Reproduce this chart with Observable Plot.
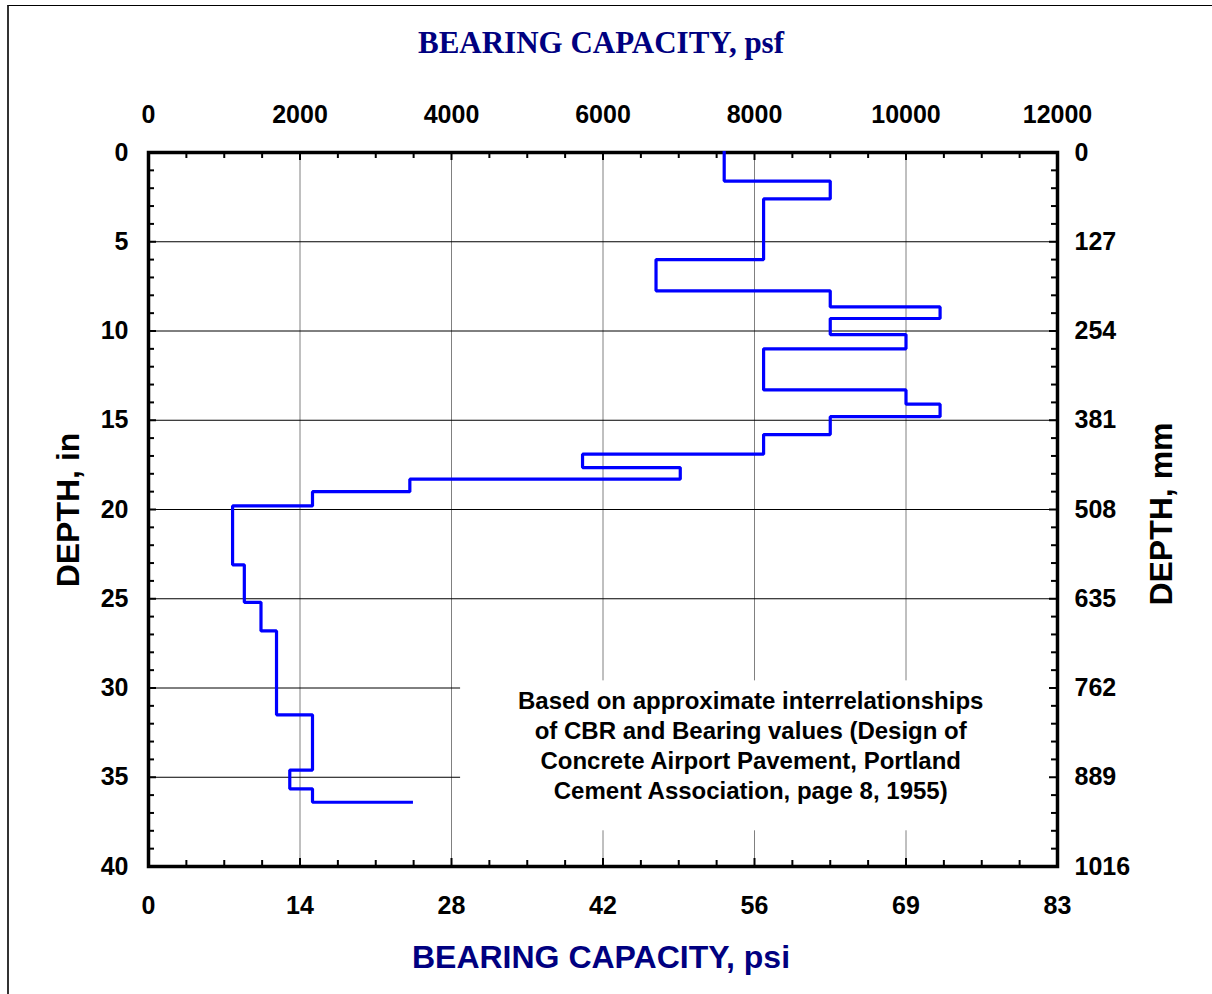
<!DOCTYPE html>
<html>
<head>
<meta charset="utf-8">
<script src="https://cdn.jsdelivr.net/npm/d3@7"></script>
<script src="https://cdn.jsdelivr.net/npm/@observablehq/plot@0.6"></script>
<style>
  html, body { margin: 0; padding: 0; background: #fff; overflow: hidden; }
  #wrap { position: relative; width: 1212px; height: 994px; }
  #border { position: absolute; left: 7px; top: 5px; width: 1300px; height: 1100px;
            border-left: 2px solid #333; border-top: 1px solid #000; }
  .title { position: absolute; color: #000080; font-weight: bold; white-space: nowrap; text-align: center; }
  #tTop { left: 0; width: 1202px; top: 27px; font: bold 31px "Times New Roman", "Liberation Serif", serif; line-height: 31px; }
  #tBot { left: 0; width: 1202px; top: 941px; font: bold 32px Arial, "Liberation Sans", sans-serif; line-height: 32px; }
  .side { position: absolute; width: 300px; height: 32px; line-height: 32px; text-align: center;
          font: bold 32px Arial, "Liberation Sans", sans-serif; color: #000; white-space: nowrap;
          transform: rotate(-90deg); transform-origin: 150px 16px; }
  #chart { position: absolute; left: 0; top: 0; }
</style>
</head>
<body>
<div id="wrap">
  <div id="border"></div>
  <div id="chart"></div>
  <div class="title" id="tTop">BEARING CAPACITY, psf</div>
  <div class="title" id="tBot">BEARING CAPACITY, psi</div>
  <div class="side" id="sLeft" style="left:-84px; top:494px;">DEPTH, in</div>
  <div class="side" id="sRight" style="left:1009px; top:498px;">DEPTH, mm</div>
</div>
<script>
// ---- data ----
// Layer-top depth (in) and bearing capacity (psf) of the stepped profile
const depthIn = [0, 1.6, 2.6, 6.0, 7.75, 8.65, 9.3, 10.2, 11.0, 13.3, 14.1, 14.8, 15.8, 16.9, 17.65, 18.3, 19.0, 19.8, 23.1, 25.2, 26.8, 31.5, 34.6, 35.65, 36.4];
const bearingPsf = [7600, 9000, 8120, 6700, 9000, 10450, 9000, 10000, 8120, 10000, 10450, 9000, 8120, 5730, 7020, 3450, 2165, 1110, 1265, 1485, 1690, 2165, 1865, 2165, 3470];

// axis ticks / labels
const psfTicks = [0, 2000, 4000, 6000, 8000, 10000, 12000];
const psiLabels = ["0", "14", "28", "42", "56", "69", "83"];
const depthTicks = [0, 5, 10, 15, 20, 25, 30, 35, 40];
const mmLabels = ["0", "127", "254", "381", "508", "635", "762", "889", "1016"];
const psfGridLines = [2000, 4000, 6000, 8000, 10000];
const depthGridLines = [5, 10, 15, 20, 25, 30, 35];

const noteText = "Based on approximate interrelationships\nof CBR and Bearing values (Design of\nConcrete Airport Pavement, Portland\nCement Association, page 8, 1955)";
const note = [{x: 7950, y: 33.15, text: noteText}];
const noteBox = [{x1: 4120, x2: 12000, y1: 29.6, y2: 38.0}];

// ---- build ----
const profile = depthIn.map((d, i) => ({depth: d, psf: bearingPsf[i]}));
const psfMinor = d3.range(0, 12001, 500);
const depthMinor = d3.range(0, 41, 1);

const W = 1212, H = 994;
const mL = 148, mR = 155, mT = 152, mB = 128;
const xMax = 12000, yMax = 40;
const pxX = xMax / (W - mL - mR);   // psf per px
const pxY = yMax / (H - mT - mB);   // in per px
const tMinor = 6, tMajor = 8;

const chart = Plot.plot({
  width: W, height: H,
  marginLeft: mL, marginRight: mR, marginTop: mT, marginBottom: mB,
  x: {domain: [0, xMax]},
  y: {domain: [0, yMax], reverse: true},
  style: {fontFamily: "Arial, 'Liberation Sans', sans-serif", fontSize: "25px", fontWeight: "bold", color: "#000", background: "transparent", overflow: "visible"},
  marks: [
    Plot.ruleX(psfGridLines, {x: d => d, stroke: "#808080", strokeWidth: 1}),
    Plot.ruleY(depthGridLines, {y: d => d, stroke: "#000", strokeWidth: 1}),
    Plot.rect(noteBox, {x1: "x1", x2: "x2", y1: "y1", y2: "y2", fill: "white"}),
    // inward ticks
    Plot.ruleX(psfMinor, {x: d => d, y1: 0, y2: d => (psfTicks.includes(d) ? tMajor : tMinor) * pxY, stroke: "#000", strokeWidth: 2}),
    Plot.ruleX(psfMinor, {x: d => d, y1: yMax, y2: d => yMax - (psfTicks.includes(d) ? tMajor : tMinor) * pxY, stroke: "#000", strokeWidth: 2}),
    Plot.ruleY(depthMinor, {y: d => d, x1: 0, x2: d => (depthTicks.includes(d) ? tMajor : tMinor) * pxX, stroke: "#000", strokeWidth: 2}),
    Plot.ruleY(depthMinor, {y: d => d, x1: xMax, x2: d => xMax - (depthTicks.includes(d) ? tMajor : tMinor) * pxX, stroke: "#000", strokeWidth: 2}),
    Plot.frame({stroke: "#000", strokeWidth: 3.5}),
    Plot.line(profile, {x: "psf", y: "depth", curve: "step-before", stroke: "#0000ff", strokeWidth: 3.2, strokeLinejoin: "miter", strokeLinecap: "square"}),
    Plot.axisX({anchor: "top", ticks: psfTicks, tickSize: 0, tickPadding: 30, label: null, tickFormat: d => String(d)}),
    Plot.axisX({anchor: "bottom", ticks: psfTicks, tickSize: 0, tickPadding: 30, label: null, tickFormat: d => psiLabels[psfTicks.indexOf(d)]}),
    Plot.axisY({anchor: "left", ticks: depthTicks, tickSize: 0, tickPadding: 20, label: null, tickFormat: d => String(d)}),
    Plot.axisY({anchor: "right", ticks: depthTicks, tickSize: 0, tickPadding: 17, label: null, tickFormat: d => mmLabels[depthTicks.indexOf(d)]}),
    Plot.text(note, {x: "x", y: "y", text: "text", fontSize: 24, lineHeight: 1.25, fontWeight: "bold", fill: "#000"})
  ]
});
document.getElementById("chart").appendChild(chart);
</script>
</body>
</html>
